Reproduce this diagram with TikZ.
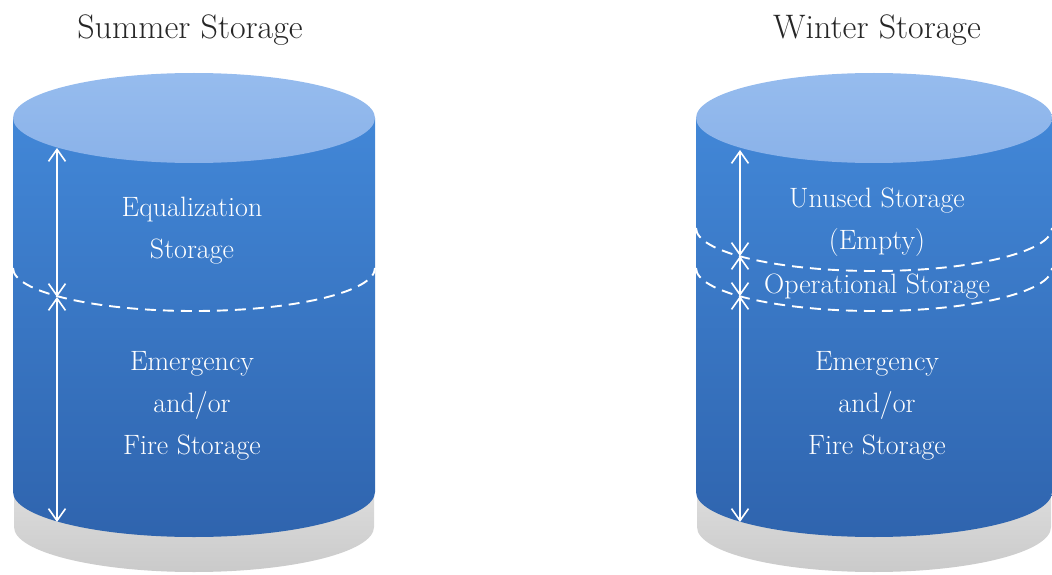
\documentclass[tikz,border=0pt]{standalone}
\usepackage{tikz}
\usetikzlibrary{arrows.meta}
\definecolor{TankBlue}{RGB}{66,135,215}
\definecolor{TankDeep}{RGB}{47,100,174}
\definecolor{TankLid}{RGB}{138,178,233}
\definecolor{TankLidLight}{RGB}{150,188,238}
\definecolor{BaseGray}{RGB}{220,220,220}
\definecolor{BaseShade}{RGB}{202,202,202}

\tikzset{
  tankbody/.style={top color=TankBlue, bottom color=TankDeep, draw=none},
  tanklid/.style={top color=TankLidLight, bottom color=TankLid, draw=none},
  tankbase/.style={top color=BaseGray, bottom color=BaseShade, draw=none},
  levelline/.style={draw=white, line width=1.9pt, dash pattern=on 11pt off 7pt},
  span/.style={draw=white, line width=1.6pt,
    {Straight Barb[length=12pt,width=17pt]}-{Straight Barb[length=12pt,width=17pt]}},
  zonetext/.style={text=white, align=center, font=\fontsize{28}{42}\selectfont},
  heading/.style={text=black!85, font=\fontsize{34}{40}\selectfont}
}

\begin{document}
\begin{tikzpicture}[x=1pt,y=-1pt]
    \useasboundingbox (0,0) rectangle (1052,575);

    % the two tanks: grey plate, blue shell, light lid
    \foreach \cx/\r in {194/181, 874/178} {
        \path[tankbase] (\cx-\r+1,492) -- (\cx-\r+1,527)
            arc[start angle=180, end angle=360, x radius=\r pt-1pt, y radius=45pt]
            -- (\cx+\r-1,492) -- cycle;
        \path[tankbody] (\cx-\r,118) -- (\cx-\r,492)
            arc[start angle=180, end angle=360, x radius=\r pt, y radius=45pt]
            -- (\cx+\r,118) -- cycle;
        \path[tanklid] (\cx,118) ellipse[x radius=\r pt, y radius=45pt];
    }

    % water levels
    \draw[levelline] (13,268) arc[start angle=180, end angle=360, x radius=181pt, y radius=43pt];
    \draw[levelline] (696,228) arc[start angle=180, end angle=360, x radius=178pt, y radius=43pt];
    \draw[levelline] (696,268) arc[start angle=180, end angle=360, x radius=178pt, y radius=43pt];

    % summer tank
    \node[heading] (summer) at (190,30) {Summer Storage};
    \coordinate (s-top) at (57,148);
    \coordinate (s-mid) at (57,297);
    \coordinate (s-bot) at (57,522);
    \draw[span] (s-top) -- (s-mid);
    \draw[span] (s-mid) -- (s-bot);
    \node[zonetext] (s-equal) at (192,231) {Equalization\\Storage};
    \node[zonetext] (s-fire) at (192,406) {Emergency\\and/or\\Fire Storage};

    % winter tank
    \node[heading] (winter) at (877,30) {Winter Storage};
    \coordinate (w-top) at (740,150);
    \coordinate (w-upper) at (740,256);
    \coordinate (w-lower) at (740,296);
    \coordinate (w-bot) at (740,522);
    \draw[span] (w-top) -- (w-upper);
    \draw[span] (w-upper) -- (w-lower);
    \draw[span] (w-lower) -- (w-bot);
    \node[zonetext] (w-unused) at (877,222) {Unused Storage\\(Empty)};
    \node[zonetext] (w-oper) at (877,287) {Operational Storage};
    \node[zonetext] (w-fire) at (877,406) {Emergency\\and/or\\Fire Storage};
\end{tikzpicture}
\end{document}
